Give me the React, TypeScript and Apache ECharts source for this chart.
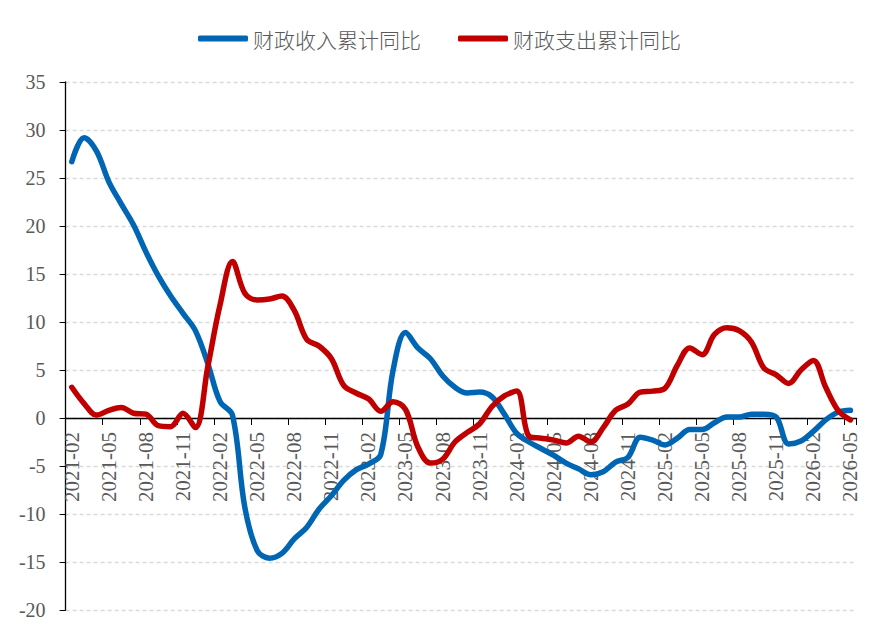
import React, { useEffect, useRef } from "react";
import * as echarts from "echarts";

// Monthly categories, 2021-02 through 2026-05
const months: string[] = [
  "2021-02", "2021-03", "2021-04", "2021-05", "2021-06", "2021-07", "2021-08", "2021-09", "2021-10", "2021-11", "2021-12",
  "2022-01", "2022-02", "2022-03", "2022-04", "2022-05", "2022-06", "2022-07", "2022-08", "2022-09", "2022-10", "2022-11", "2022-12",
  "2023-01", "2023-02", "2023-03", "2023-04", "2023-05", "2023-06", "2023-07", "2023-08", "2023-09", "2023-10", "2023-11", "2023-12",
  "2024-01", "2024-02", "2024-03", "2024-04", "2024-05", "2024-06", "2024-07", "2024-08", "2024-09", "2024-10", "2024-11", "2024-12",
  "2025-01", "2025-02", "2025-03", "2025-04", "2025-05", "2025-06", "2025-07", "2025-08", "2025-09", "2025-10", "2025-11", "2025-12",
  "2026-01", "2026-02", "2026-03", "2026-04", "2026-05",
];

// 财政收入累计同比 (%)
const revenueYoY: number[] = [
  26.7, 29.2, 27.8, 24.6, 22.3, 20.1, 17.3, 14.8, 12.7, 10.9, 9.1,
  5.7, 1.7, 0.3, -9.3, -13.8, -14.6, -14.1, -12.6, -11.4, -9.5, -8.1, -6.5,
  -5.4, -4.8, -3.8, 5.0, 8.9, 7.3, 6.2, 4.4, 3.2, 2.6, 2.7, 2.2,
  0.4, -1.6, -2.5, -3.2, -3.9, -4.7, -5.3, -5.9, -5.6, -4.6, -4.1, -2.0,
  -2.3, -2.8, -2.1, -1.2, -1.2, -0.5, 0.1, 0.1, 0.4, 0.4, 0.1, -2.7,
  -2.4, -1.4, -0.2, 0.6, 0.8,
];

// 财政支出累计同比 (%)
const expenditureYoY: number[] = [
  3.2, 1.5, 0.3, 0.8, 1.1, 0.5, 0.4, -0.8, -0.9, 0.5, -1.0,
  5.3, 11.8, 16.3, 13.0, 12.3, 12.4, 12.7, 11.2, 8.2, 7.5, 6.2, 3.4,
  2.6, 2.0, 0.7, 1.7, 0.9, -3.0, -4.7, -4.3, -2.5, -1.5, -0.6, 1.2,
  2.3, 2.8, -1.9, -2.1, -2.3, -2.6, -1.9, -2.5, -1.0, 0.8, 1.45, 2.7,
  2.8, 3.1, 5.5, 7.3, 6.6, 8.7, 9.4, 9.1, 7.9, 5.2, 4.5, 3.6,
  5.0, 6.0, 3.2, 0.8, -0.2,
];

const seriesNames: string[] = ["财政收入累计同比", "财政支出累计同比"];
const seriesColors: string[] = ["#0066B3", "#C00000"];

const Y_MIN = -20;
const Y_MAX = 35;
const GRID_TOP = 82;
const GRID_BOTTOM = 27;
const CHART_H = 637;

const SERIF = "Liberation Serif";

const App: React.FC = () => {
  const ref = useRef<HTMLDivElement>(null);

  useEffect(() => {
    if (!ref.current) return;
    const chart = echarts.init(ref.current, undefined, { renderer: "svg" });
    // distance from the plot's bottom edge up to the zero line
    const plotH = CHART_H - GRID_TOP - GRID_BOTTOM;
    const zeroFromBottom = (-Y_MIN / (Y_MAX - Y_MIN)) * plotH;
    chart.setOption({
      animation: false,
      backgroundColor: "#ffffff",
      legend: {
        top: 23,
        left: 193,
        icon: "roundRect",
        itemWidth: 50,
        itemHeight: 6,
        itemGap: 37,
        textStyle: {
          fontFamily: "Noto Sans CJK SC",
          fontWeight: 300,
          fontSize: 21,
          color: "#595959",
        },
        data: seriesNames,
      },
      grid: {
        left: 65.6,
        right: 28.4,
        top: GRID_TOP,
        bottom: GRID_BOTTOM,
        containLabel: false,
        outerBoundsMode: "none",
      },
      xAxis: {
        type: "category",
        data: months,
        boundaryGap: true,
        position: "bottom",
        offset: -zeroFromBottom,
        axisLine: { onZero: false, lineStyle: { color: "#000000", width: 1.3 } },
        axisTick: { show: true, interval: 2, length: 7, lineStyle: { color: "#000000" } },
        axisLabel: {
          interval: 2,
          rotate: 90,
          margin: 14,
          fontFamily: SERIF,
          fontSize: 21,
          color: "#595959",
        },
        splitLine: { show: false },
      },
      yAxis: {
        type: "value",
        min: Y_MIN,
        max: Y_MAX,
        interval: 5,
        axisLine: { show: true, lineStyle: { color: "#000000", width: 1.3 } },
        axisTick: { show: true, length: 6, lineStyle: { color: "#000000" } },
        axisLabel: {
          margin: 20,
          fontFamily: SERIF,
          fontSize: 20,
          color: "#595959",
        },
        splitLine: { show: true, lineStyle: { color: "#D9D9D9", type: [4, 3], width: 1.3 } },
      },
      series: [
        {
          name: seriesNames[0],
          type: "line",
          data: revenueYoY,
          smooth: 0.35,
          symbol: "none",
          lineStyle: { color: seriesColors[0], width: 5.5, cap: "round", join: "round" },
          itemStyle: { color: seriesColors[0] },
        },
        {
          name: seriesNames[1],
          type: "line",
          data: expenditureYoY,
          smooth: 0.35,
          symbol: "none",
          lineStyle: { color: seriesColors[1], width: 5.5, cap: "round", join: "round" },
          itemStyle: { color: seriesColors[1] },
        },
      ],
    });
    return () => chart.dispose();
  }, []);

  return <div ref={ref} style={{ width: 885, height: 637, position: "absolute", left: 0, top: 0 }} />;
};

export default App;
